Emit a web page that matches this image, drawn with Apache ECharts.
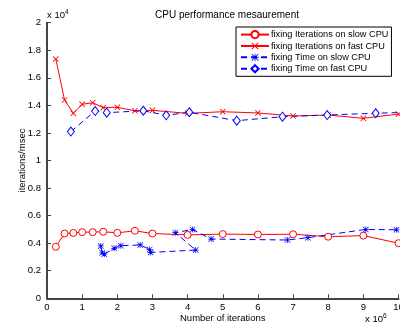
<!DOCTYPE html>
<html><head><meta charset="utf-8">
<script src="https://cdn.jsdelivr.net/npm/echarts@6/dist/echarts.min.js"></script>
<style>html,body{margin:0;padding:0;background:#fff}#c{width:400px;height:325px}</style>
</head><body><div id="c"></div>
<script>
// x in units of 10^6 iterations, y in units of 10^4 iterations/msec
const seriesNames = ['fixing Iterations on slow CPU','fixing Iterations on fast CPU','fixing Time on slow CPU','fixing Time on fast CPU'];
const iterSlowX = [0.25,0.5,0.75,1.0,1.3,1.6,2.0,2.5,3.0,4.0,5.0,6.0,7.0,8.0,9.0,10.0];
const iterSlowY = [0.374,0.47,0.474,0.48,0.48,0.483,0.475,0.49,0.47,0.46,0.466,0.463,0.465,0.447,0.455,0.40];
const iterFastX = [0.25,0.5,0.75,1.0,1.3,1.6,2.0,2.5,3.0,4.0,5.0,6.0,7.0,8.0,9.0,10.0];
const iterFastY = [1.737,1.439,1.342,1.408,1.419,1.383,1.386,1.361,1.364,1.342,1.354,1.345,1.323,1.33,1.306,1.337];
const timeSlowX = [1.53,1.57,1.63,1.91,2.10,2.65,2.92,2.95,4.23,3.65,4.14,4.67,6.84,7.42,9.07,9.94];
const timeSlowY = [0.38,0.33,0.32,0.363,0.382,0.387,0.355,0.333,0.35,0.476,0.50,0.43,0.423,0.44,0.50,0.497];
const timeFastX = [0.68,1.37,1.70,2.74,3.39,4.05,5.40,6.70,7.97,9.35,10.3];
const timeFastY = [1.21,1.359,1.347,1.361,1.328,1.35,1.289,1.318,1.33,1.343,1.35];
const xTicks = [0,1,2,3,4,5,6,7,8,9,10];
const yTicks = [0,0.2,0.4,0.6,0.8,1,1.2,1.4,1.6,1.8,2];

const pair = (xs, ys) => xs.map((x, i) => [x, ys[i]]);
const xPath = 'path://M0,1 L1,0 L5,4 L9,0 L10,1 L6,5 L10,9 L9,10 L5,6 L1,10 L0,9 L4,5 Z';
const astPath = 'path://M4.4,0 L5.6,0 L5.6,10 L4.4,10 Z M0,4.4 L10,4.4 L10,5.6 L0,5.6 Z M0.8,0 L10,9.2 L9.2,10 L0,0.8 Z M9.2,0 L10,0.8 L0.8,10 L0,9.2 Z';
const RED = '#ff0000', BLUE = '#0000ff';
const FONT = 'Liberation Sans';

const chart = echarts.init(document.getElementById('c'), null, {renderer: 'canvas'});
chart.setOption({
  animation: false,
  backgroundColor: '#fff',
  textStyle: {fontFamily: FONT},
  title: {text: 'CPU performance mesaurement', left: 222, top: 5, textAlign: 'center',
    textStyle: {fontSize: 10, fontWeight: 'normal', color: '#000', fontFamily: FONT}},
  grid: {left: 47, right: 1.5, top: 22.7, bottom: 26.7, containLabel: false, outerBoundsMode: 'none'},
  legend: {
    orient: 'vertical', left: 236, top: 27,
    backgroundColor: '#fff', borderColor: '#000', borderWidth: 1,
    padding: [3, 3, 3, 4], itemGap: 2.3, itemWidth: 28, itemHeight: 9,
    textStyle: {fontSize: 9.2, color: '#000', fontFamily: FONT, padding: [0,0,0,-3]},
    data: seriesNames
  },
  xAxis: {
    type: 'value', min: 0, max: 10, interval: 1,
    name: 'Number of iterations', nameLocation: 'middle', nameGap: 15, nameMoveOverlap: false,
    nameTextStyle: {fontSize: 9.5, color: '#000'},
    axisLine: {show: true, lineStyle: {color: '#444', width: 2}},
    axisTick: {show: true, inside: true, length: 4, lineStyle: {color: '#444'}},
    axisLabel: {fontSize: 9.5, color: '#000', margin: 4, hideOverlap: false,
      formatter: v => xTicks.includes(v) ? String(v) : ''},
    splitLine: {show: false}
  },
  yAxis: {
    type: 'value', min: 0, max: 2, interval: 0.2,
    name: 'iterations/msec', nameLocation: 'middle', nameGap: 20, nameRotate: 90, nameMoveOverlap: false,
    nameTextStyle: {fontSize: 9.5, color: '#000'},
    axisLine: {show: true, lineStyle: {color: '#444', width: 2}},
    axisTick: {show: true, inside: true, length: 4, lineStyle: {color: '#444'}},
    axisLabel: {fontSize: 9.5, color: '#000', margin: 6,
      formatter: v => { const t = yTicks.find(k => Math.abs(k - v) < 1e-9); return t === undefined ? '' : String(t); }},
    splitLine: {show: false}
  },
  graphic: [
    {type: 'text', left: 47, top: 9, style: {text: 'x 10{s|4}', rich: {s: {fontSize: 6.5, verticalAlign: 'top', padding: [0,0,6,0]}}, font: '9.5px ' + FONT, fill: '#000'}},
    {type: 'text', left: 365, top: 313, style: {text: 'x 10{s|6}', rich: {s: {fontSize: 6.5, padding: [0,0,6,0]}}, font: '9.5px ' + FONT, fill: '#000'}}
  ],
  series: [
    {name: seriesNames[0], type: 'line', data: pair(iterSlowX, iterSlowY), clip: true,
      symbol: 'circle', symbolSize: 7, showAllSymbol: true,
      lineStyle: {color: RED, width: 1}, itemStyle: {color: '#fff', borderColor: RED, borderWidth: 1}},
    {name: seriesNames[1], type: 'line', data: pair(iterFastX, iterFastY), clip: true,
      symbol: xPath, symbolSize: 6, showAllSymbol: true,
      lineStyle: {color: RED, width: 1}, itemStyle: {color: RED, borderWidth: 0}},
    {name: seriesNames[2], type: 'line', data: pair(timeSlowX, timeSlowY), clip: true,
      symbol: astPath, symbolSize: 6, showAllSymbol: true,
      lineStyle: {color: BLUE, width: 1, type: [6, 4]}, itemStyle: {color: BLUE, borderWidth: 0}},
    {name: seriesNames[3], type: 'line', data: pair(timeFastX, timeFastY), clip: true,
      symbol: 'diamond', symbolSize: [7, 9], showAllSymbol: true,
      lineStyle: {color: BLUE, width: 1, type: [6, 4]}, itemStyle: {color: '#fff', borderColor: BLUE, borderWidth: 1}}
  ]
});
</script>
</body></html>
